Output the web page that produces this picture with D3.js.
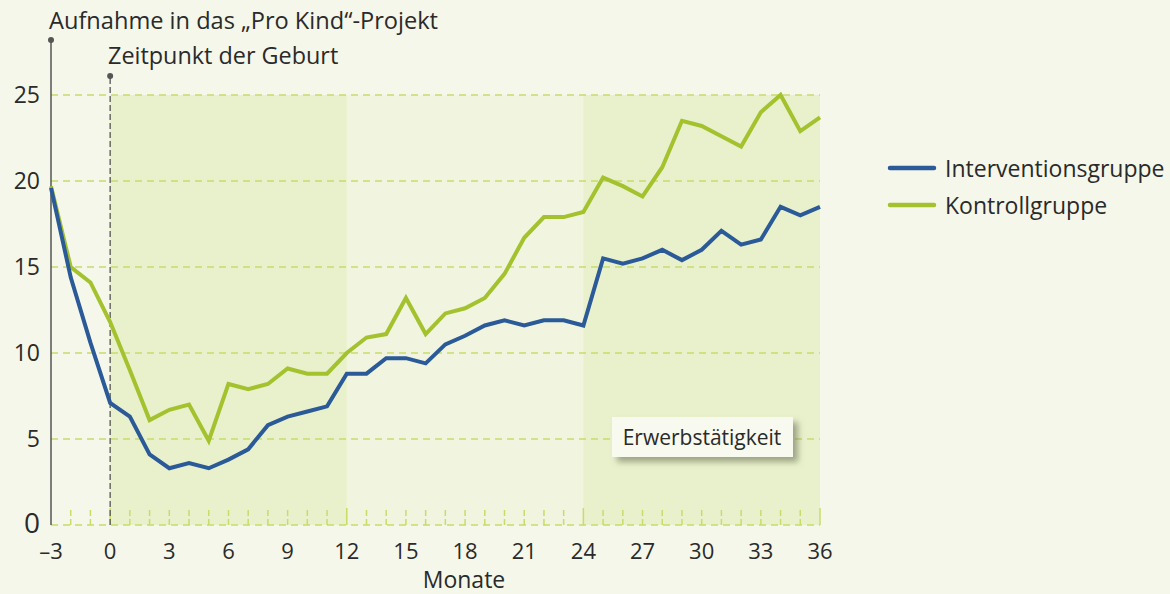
<!DOCTYPE html>
<html>
<head>
<meta charset="utf-8">
<script src="https://cdn.jsdelivr.net/npm/d3@7"></script>
<style>
  body { margin: 0; background: #f5f7ea; }
  svg { display: block; font-family: "Open Sans", sans-serif; }
</style>
</head>
<body>
<svg width="1170" height="594"></svg>
<script>
// months from -3 to 36
var months = d3.range(-3, 37);
// Interventionsgruppe
var intervention = [19.6, 14.4, 10.6, 7.1, 6.3, 4.1, 3.3, 3.6, 3.3, 3.8, 4.4, 5.8, 6.3, 6.6, 6.9, 8.8,
  8.8, 9.7, 9.7, 9.4, 10.5, 11.0, 11.6, 11.9, 11.6, 11.9, 11.9, 11.6,
  15.5, 15.2, 15.5, 16.0, 15.4, 16.0, 17.1, 16.3, 16.6, 18.5, 18.0, 18.5];
// Kontrollgruppe
var control = [19.7, 15.0, 14.1, 11.8, 9.0, 6.1, 6.7, 7.0, 4.9, 8.2, 7.9, 8.2, 9.1, 8.8, 8.8, 10.0,
  10.9, 11.1, 13.2, 11.1, 12.3, 12.6, 13.2, 14.6, 16.7, 17.9, 17.9, 18.2,
  20.2, 19.7, 19.1, 20.8, 23.5, 23.2, 22.6, 22.0, 24.0, 25.0, 22.9, 23.7];
var yTicks = [0, 5, 10, 15, 20, 25];
var xTicks = [-3, 0, 3, 6, 9, 12, 15, 18, 21, 24, 27, 30, 33, 36];
var shadedRanges = [[0, 12], [24, 36]];

var blue = '#2b5a98';
var green = '#a3c22e';
var gridColor = '#c8dc68';
var textColor = '#2a2a2a';

var svg = d3.select('svg');

var x = d3.scaleLinear().domain([-3, 36]).range([51, 820]);
var y = d3.scaleLinear().domain([0, 25]).range([525, 95]);

// plot background
svg.append('rect')
    .attr('x', x(0)).attr('y', y(25))
    .attr('width', x(36) - x(0)).attr('height', y(0) - y(25))
    .attr('fill', '#f1f5df');

svg.selectAll('.shade')
    .data(shadedRanges)
    .enter().append('rect')
    .attr('class', 'shade')
    .attr('x', d => x(d[0]))
    .attr('y', y(25))
    .attr('width', d => x(d[1]) - x(d[0]))
    .attr('height', y(0) - y(25))
    .attr('fill', '#e9f1cc');

// horizontal dashed grid
svg.selectAll('.grid')
    .data(yTicks)
    .enter().append('line')
    .attr('class', 'grid')
    .attr('x1', x(-3)).attr('x2', x(36))
    .attr('y1', d => y(d)).attr('y2', d => y(d))
    .attr('stroke', gridColor)
    .attr('stroke-width', 1.5)
    .attr('stroke-dasharray', '7,5');

// month ticks at bottom
svg.selectAll('.mtick')
    .data(months.filter(m => m > -3))
    .enter().append('line')
    .attr('class', 'mtick')
    .attr('x1', d => x(d)).attr('x2', d => x(d))
    .attr('y1', y(0)).attr('y2', y(0) - 17)
    .attr('stroke', gridColor)
    .attr('stroke-width', 1.5)
    .attr('stroke-dasharray', d => d % 12 === 0 ? null : '6,3');

// y labels
svg.selectAll('.ylab')
    .data(yTicks)
    .enter().append('text')
    .attr('class', 'ylab')
    .attr('x', 40)
    .attr('y', d => y(d) + 8)
    .attr('text-anchor', 'end')
    .attr('font-size', d => d === 0 ? 28 : 23)
    .attr('fill', textColor)
    .text(d => d);

// x labels
svg.selectAll('.xlab')
    .data(xTicks)
    .enter().append('text')
    .attr('class', 'xlab')
    .attr('x', d => x(d))
    .attr('y', 559)
    .attr('text-anchor', 'middle')
    .attr('font-size', 22)
    .attr('fill', textColor)
    .text(d => d < 0 ? '\u2013' + Math.abs(d) : d);

svg.append('text')
    .attr('x', 464).attr('y', 588)
    .attr('text-anchor', 'middle')
    .attr('font-size', 23)
    .attr('fill', textColor)
    .text('Monate');

// event markers
svg.append('line')
    .attr('x1', x(-3)).attr('x2', x(-3))
    .attr('y1', y(0)).attr('y2', 40)
    .attr('stroke', '#555').attr('stroke-width', 1.5);
svg.append('circle').attr('cx', x(-3)).attr('cy', 40).attr('r', 3).attr('fill', '#555');
svg.append('line')
    .attr('x1', x(0)).attr('x2', x(0))
    .attr('y1', y(0)).attr('y2', 76)
    .attr('stroke', '#555').attr('stroke-width', 1.3)
    .attr('stroke-dasharray', '6,3');
svg.append('circle').attr('cx', x(0)).attr('cy', 76).attr('r', 3).attr('fill', '#555');

svg.append('text')
    .attr('x', 49).attr('y', 29)
    .attr('font-size', 23.6).attr('fill', textColor)
    .text('Aufnahme in das \u201EPro Kind\u201C-Projekt');
svg.append('text')
    .attr('x', 108).attr('y', 64)
    .attr('font-size', 23.4).attr('fill', textColor)
    .text('Zeitpunkt der Geburt');

// lines
var line = d3.line()
    .x((d, i) => x(months[i]))
    .y(d => y(d));

svg.append('path')
    .datum(control)
    .attr('d', line)
    .attr('fill', 'none')
    .attr('stroke', green)
    .attr('stroke-width', 4)
    .attr('stroke-linejoin', 'miter');

svg.append('path')
    .datum(intervention)
    .attr('d', line)
    .attr('fill', 'none')
    .attr('stroke', blue)
    .attr('stroke-width', 4)
    .attr('stroke-linejoin', 'miter');

// Erwerbstätigkeit label box
var defs = svg.append('defs');
var f = defs.append('filter').attr('id', 'shadow')
    .attr('x', '-20%').attr('y', '-30%').attr('width', '150%').attr('height', '190%');
f.append('feDropShadow')
    .attr('dx', 5).attr('dy', 5).attr('stdDeviation', 3)
    .attr('flood-color', '#6b6f55').attr('flood-opacity', 0.6);

svg.append('rect')
    .attr('x', 612).attr('y', 417)
    .attr('width', 181).attr('height', 40)
    .attr('fill', '#f8f9ef')
    .attr('filter', 'url(#shadow)');
svg.append('text')
    .attr('x', 702).attr('y', 445)
    .attr('text-anchor', 'middle')
    .attr('font-size', 21).attr('fill', textColor)
    .text('Erwerbstätigkeit');

// legend
var legend = [{name: 'Interventionsgruppe', color: blue}, {name: 'Kontrollgruppe', color: green}];
var lg = svg.selectAll('.legend')
    .data(legend)
    .enter().append('g')
    .attr('class', 'legend')
    .attr('transform', (d, i) => `translate(890, ${168 + i * 37})`);
lg.append('line')
    .attr('x1', 0).attr('x2', 44)
    .attr('stroke', d => d.color)
    .attr('stroke-width', 4.5)
    .attr('stroke-linecap', 'round');
lg.append('text')
    .attr('x', 55).attr('y', 9)
    .attr('font-size', 23).attr('fill', textColor)
    .text(d => d.name);
</script>
</body>
</html>
